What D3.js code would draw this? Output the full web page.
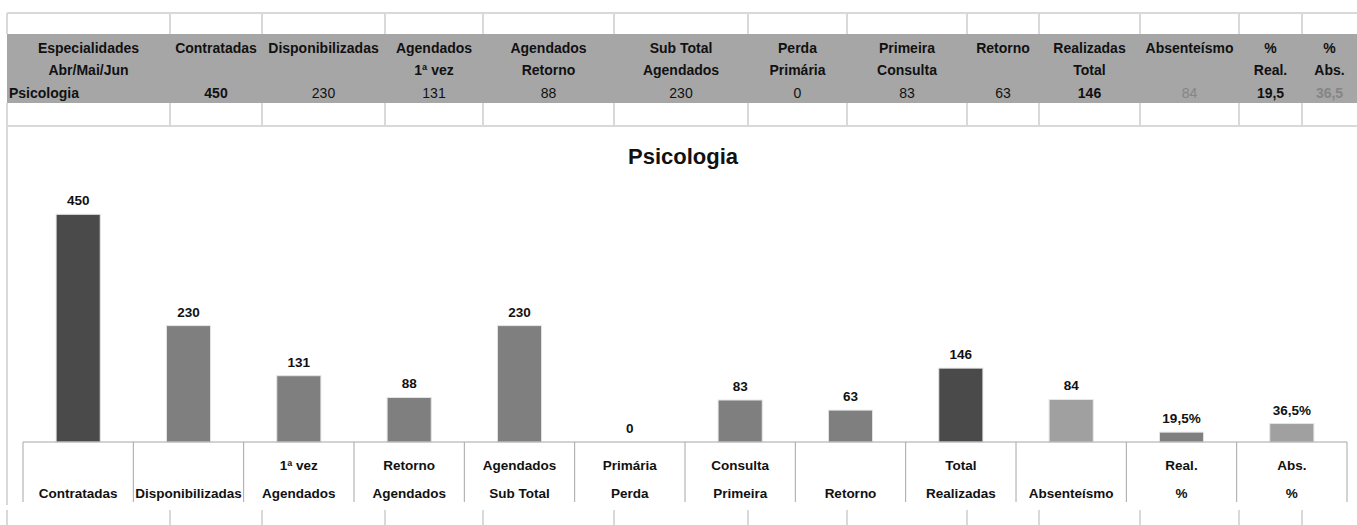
<!DOCTYPE html>
<html>
<head>
<meta charset="utf-8">
<script src="https://cdn.jsdelivr.net/npm/d3@7"></script>
<style>
  body { margin: 0; background: #fff; }
  svg { display: block; font-family: "Liberation Sans", Arial, sans-serif; }
</style>
</head>
<body>
<svg id="chart" width="1357" height="525"></svg>
<script>
// table header (two lines per column)
const headerTop = ["Especialidades", "Contratadas", "Disponibilizadas", "Agendados", "Agendados", "Sub Total",
  "Perda", "Primeira", "Retorno", "Realizadas", "Absenteísmo", "%", "%"];
const headerBottom = ["Abr/Mai/Jun", "", "", "1ª vez", "Retorno", "Agendados",
  "Primária", "Consulta", "", "Total", "", "Real.", "Abs."];
const rowName = "Psicologia";
const tableValues = ["450", "230", "131", "88", "230", "0", "83", "63", "146", "84", "19,5", "36,5"];

// chart data
const catTop = ["", "", "1ª vez", "Retorno", "Agendados", "Primária", "Consulta", "", "Total", "", "Real.", "Abs."];
const catBottom = ["Contratadas", "Disponibilizadas", "Agendados", "Agendados", "Sub Total", "Perda",
  "Primeira", "Retorno", "Realizadas", "Absenteísmo", "%", "%"];
const values = [450, 230, 131, 88, 230, 0, 83, 63, 146, 84, 19.5, 36.5];
const isPercent = [false, false, false, false, false, false, false, false, false, false, true, true];
const barColors = ["#4a4a4a", "#7f7f7f", "#7f7f7f", "#7f7f7f", "#7f7f7f", "#7f7f7f",
  "#7f7f7f", "#7f7f7f", "#4a4a4a", "#a0a0a0", "#7f7f7f", "#a0a0a0"];

// spreadsheet column edges (layout)
const colEdges = [7, 170, 262, 385, 483, 614, 748, 847, 967, 1039, 1140, 1239, 1302, 1357];

const svg = d3.select("#chart");
const grid = "#d9d9d9";

// ---- spreadsheet table ----
const t = svg.append("g");
t.append("rect").attr("x", 7).attr("y", 34).attr("width", 1350).attr("height", 69).attr("fill", "#a6a6a6");
[13, 126].forEach(y => {
  t.append("line").attr("x1", 7).attr("x2", 1357).attr("y1", y).attr("y2", y)
    .attr("stroke", grid).attr("stroke-width", 2);
});
colEdges.slice(0, -1).forEach(x => {
  t.append("line").attr("x1", x).attr("x2", x).attr("y1", 13).attr("y2", 34).attr("stroke", grid).attr("stroke-width", 2);
  t.append("line").attr("x1", x).attr("x2", x).attr("y1", 103).attr("y2", 126).attr("stroke", grid).attr("stroke-width", 2);
  t.append("line").attr("x1", x).attr("x2", x).attr("y1", 510).attr("y2", 525).attr("stroke", grid).attr("stroke-width", 2);
});

const colCenter = i => (colEdges[i] + colEdges[i + 1]) / 2;
t.selectAll("text.h1").data(headerTop).join("text")
  .attr("x", (d, i) => colCenter(i)).attr("y", 53)
  .attr("text-anchor", "middle").attr("font-size", 14).attr("font-weight", "bold").attr("fill", "#111")
  .text(d => d);
t.selectAll("text.h2").data(headerBottom).join("text")
  .attr("x", (d, i) => colCenter(i)).attr("y", 75)
  .attr("text-anchor", "middle").attr("font-size", 14).attr("font-weight", "bold").attr("fill", "#111")
  .text(d => d);
t.append("text").attr("x", 9).attr("y", 98).attr("font-size", 14).attr("font-weight", "bold")
  .attr("fill", "#111").text(rowName);
const boldVals = new Set([0, 8, 10, 11]);
const grayVals = new Set([9, 11]);
t.selectAll("text.v").data(tableValues).join("text")
  .attr("x", (d, i) => colCenter(i + 1)).attr("y", 98)
  .attr("text-anchor", "middle").attr("font-size", 14)
  .attr("font-weight", (d, i) => boldVals.has(i) ? "bold" : "normal")
  .attr("fill", (d, i) => grayVals.has(i) ? "#858585" : "#111")
  .text(d => d);

// ---- chart ----
svg.append("line").attr("x1", 7).attr("x2", 7).attr("y1", 126).attr("y2", 505)
  .attr("stroke", grid).attr("stroke-width", 2);

svg.append("text").attr("x", 683).attr("y", 164).attr("text-anchor", "middle")
  .attr("font-size", 22).attr("font-weight", "bold").attr("fill", "#111").text("Psicologia");

const x = d3.scaleBand().domain(d3.range(values.length)).range([23, 1347])
  .paddingInner(0.6).paddingOuter(0.3);
const y = d3.scaleLinear().domain([0, 500]).range([442, 189]);

svg.append("g").selectAll("rect").data(values).join("rect")
  .attr("x", (d, i) => x(i)).attr("y", d => y(d))
  .attr("width", x.bandwidth()).attr("height", d => y(0) - y(d))
  .attr("fill", (d, i) => barColors[i])
  .attr("stroke", "#e6e6e6").attr("stroke-width", 1);

svg.append("g").selectAll("text").data(values).join("text")
  .attr("x", (d, i) => x(i) + x.bandwidth() / 2).attr("y", d => y(d) - 9)
  .attr("text-anchor", "middle").attr("font-size", 13.5).attr("font-weight", "bold").attr("fill", "#111")
  .text((d, i) => isPercent[i] ? d3.format(".1f")(d).replace(".", ",") + "%" : d);

// category axis
const step = x.step();
const axis = svg.append("g");
axis.append("line").attr("x1", 23).attr("x2", 1347).attr("y1", y(0)).attr("y2", y(0))
  .attr("stroke", "#a6a6a6").attr("stroke-width", 1);
d3.range(values.length + 1).forEach(k => {
  const xx = 23 + k * step;
  axis.append("line").attr("x1", xx).attr("x2", xx).attr("y1", y(0)).attr("y2", 502)
    .attr("stroke", "#a6a6a6").attr("stroke-width", 1);
});
axis.selectAll("text.c1").data(catTop).join("text")
  .attr("x", (d, i) => x(i) + x.bandwidth() / 2).attr("y", 470)
  .attr("text-anchor", "middle").attr("font-size", 13.5).attr("font-weight", "bold").attr("fill", "#111")
  .text(d => d);
axis.selectAll("text.c2").data(catBottom).join("text")
  .attr("x", (d, i) => x(i) + x.bandwidth() / 2).attr("y", 498)
  .attr("text-anchor", "middle").attr("font-size", 13.5).attr("font-weight", "bold").attr("fill", "#111")
  .text(d => d);
</script>
</body>
</html>
